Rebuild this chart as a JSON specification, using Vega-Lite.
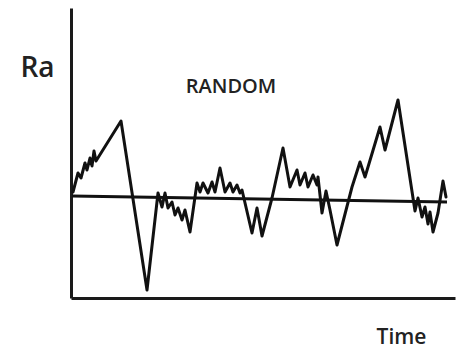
{
  "$schema": "https://vega.github.io/schema/vega-lite/v6.json",
  "autosize": {"type": "none"},
  "padding": {"left": 71, "top": 8, "right": 1, "bottom": 51},
  "width": 384,
  "height": 290,
  "background": "white",
  "config": {"view": {"stroke": null}, "font": "Open Sans"},
  "datasets": {
    "walk": [
      {"t": 2, "v": 106}, {"t": 7, "v": 125}, {"t": 10, "v": 120}, {"t": 14, "v": 135},
      {"t": 16, "v": 128}, {"t": 19, "v": 140}, {"t": 21, "v": 132}, {"t": 23, "v": 147},
      {"t": 25, "v": 137}, {"t": 50, "v": 177}, {"t": 76, "v": 8}, {"t": 87, "v": 105},
      {"t": 91, "v": 91}, {"t": 94, "v": 105}, {"t": 97, "v": 90}, {"t": 101, "v": 96},
      {"t": 104, "v": 83}, {"t": 107, "v": 90}, {"t": 111, "v": 78}, {"t": 114, "v": 88},
      {"t": 119, "v": 66}, {"t": 126, "v": 115}, {"t": 129, "v": 106}, {"t": 132, "v": 115},
      {"t": 137, "v": 105}, {"t": 141, "v": 116}, {"t": 144, "v": 106}, {"t": 149, "v": 130},
      {"t": 154, "v": 106}, {"t": 159, "v": 115}, {"t": 162, "v": 106}, {"t": 166, "v": 113},
      {"t": 169, "v": 105}, {"t": 171, "v": 108}, {"t": 181, "v": 65}, {"t": 186, "v": 90},
      {"t": 191, "v": 62}, {"t": 201, "v": 100}, {"t": 212, "v": 150}, {"t": 219, "v": 111},
      {"t": 226, "v": 128}, {"t": 229, "v": 113}, {"t": 234, "v": 125}, {"t": 237, "v": 111},
      {"t": 242, "v": 123}, {"t": 246, "v": 113}, {"t": 247, "v": 121}, {"t": 251, "v": 85},
      {"t": 255, "v": 107}, {"t": 259, "v": 88}, {"t": 266, "v": 53}, {"t": 281, "v": 111},
      {"t": 289, "v": 136}, {"t": 294, "v": 121}, {"t": 309, "v": 171}, {"t": 314, "v": 148},
      {"t": 327, "v": 198}, {"t": 344, "v": 87}, {"t": 347, "v": 100}, {"t": 351, "v": 81},
      {"t": 354, "v": 91}, {"t": 357, "v": 74}, {"t": 359, "v": 86}, {"t": 362, "v": 66},
      {"t": 367, "v": 85}, {"t": 372, "v": 117}, {"t": 375, "v": 101}
    ],
    "base": [{"t": 1, "v": 102}, {"t": 376, "v": 96}],
    "labels": [{"t": 160, "v": 205, "label": "RANDOM"}]
  },
  "layer": [
    {
      "data": {"name": "walk"},
      "mark": {"type": "line", "color": "#111111", "strokeWidth": 3, "strokeJoin": "round", "strokeCap": "round"},
      "encoding": {
        "x": {
          "field": "t", "type": "quantitative",
          "scale": {"domain": [0, 384], "nice": false, "zero": false},
          "axis": {
            "title": "Time", "domainColor": "#1a1a1a", "domainWidth": 3, "ticks": false, "labels": false, "grid": false,
            "titleFontSize": 21, "titleFontWeight": 600, "titleColor": "#222222", "titleFont": "Open Sans",
            "titleX": 330, "titleY": 45, "titleAlign": "center", "titleBaseline": "alphabetic"
          }
        },
        "y": {
          "field": "v", "type": "quantitative",
          "scale": {"domain": [0, 290], "nice": false, "zero": false},
          "axis": {
            "title": "Ra", "domainColor": "#1a1a1a", "domainWidth": 3, "ticks": false, "labels": false, "grid": false,
            "titleFontSize": 28, "titleFontWeight": 600, "titleColor": "#222222", "titleFont": "Open Sans",
            "titleAngle": 0, "titleX": -34, "titleY": 68, "titleAlign": "center", "titleBaseline": "alphabetic"
          }
        }
      }
    },
    {
      "data": {"name": "base"},
      "mark": {"type": "line", "color": "#111111", "strokeWidth": 3},
      "encoding": {
        "x": {"field": "t", "type": "quantitative"},
        "y": {"field": "v", "type": "quantitative"}
      }
    },
    {
      "data": {"name": "labels"},
      "mark": {"type": "text", "font": "Open Sans", "fontSize": 20, "fontWeight": 600, "color": "#222222", "align": "center", "baseline": "alphabetic"},
      "encoding": {
        "x": {"field": "t", "type": "quantitative"},
        "y": {"field": "v", "type": "quantitative"},
        "text": {"field": "label"}
      }
    }
  ]
}
